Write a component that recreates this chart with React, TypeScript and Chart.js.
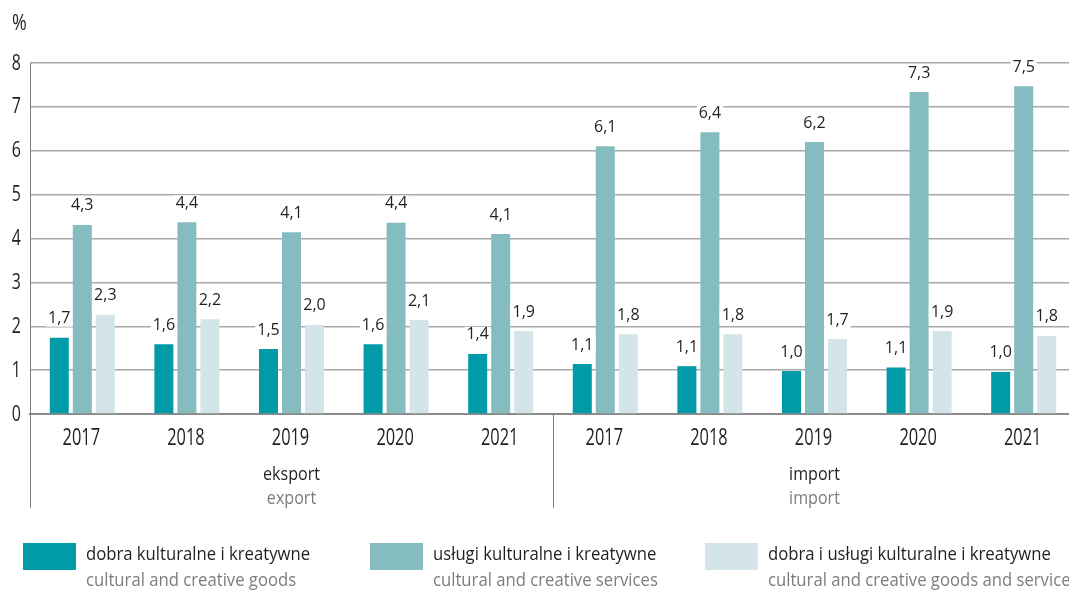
import React, { useEffect, useRef } from "react";
import { Chart, registerables } from "chart.js";

Chart.register(...registerables);

// ---- data ----
const years = ["2017", "2018", "2019", "2020", "2021", "2017", "2018", "2019", "2020", "2021"];
const groupsPl = ["eksport", "import"];
const groupsEn = ["export", "import"];
const goods = [1.74, 1.59, 1.48, 1.59, 1.37, 1.14, 1.09, 0.98, 1.06, 0.96];
const services = [4.31, 4.37, 4.14, 4.36, 4.1, 6.1, 6.42, 6.2, 7.34, 7.47];
const goodsAndServices = [2.26, 2.16, 2.03, 2.14, 1.89, 1.82, 1.82, 1.71, 1.89, 1.78];
const seriesPl = [
  "dobra kulturalne i kreatywne",
  "usługi kulturalne i kreatywne",
  "dobra i usługi kulturalne i kreatywne",
];
const seriesEn = [
  "cultural and creative goods",
  "cultural and creative services",
  "cultural and creative goods and services",
];
const seriesColors = ["#009ba7", "#85bcc0", "#d4e5e9"];
const yMin = 0;
const yMax = 8;
const yStep = 1;
const yUnit = "%";

const FONT = "'Open Sans', 'Noto Sans', sans-serif";
const DARK = "#231f20";
const GREY = "#7d7d7d";

function condText(
  ctx: CanvasRenderingContext2D,
  txt: string,
  x: number,
  y: number,
  size: number,
  color: string,
  align: CanvasTextAlign,
  sx: number
) {
  ctx.save();
  ctx.translate(x, y);
  ctx.scale(sx, 1);
  ctx.font = `${size}px ${FONT}`;
  ctx.fillStyle = color;
  ctx.textAlign = align;
  ctx.textBaseline = "alphabetic";
  ctx.fillText(txt, 0, 0);
  ctx.restore();
}

function fitScale(ctx: CanvasRenderingContext2D, txt: string, size: number, target: number) {
  ctx.save();
  ctx.font = `${size}px ${FONT}`;
  const w = ctx.measureText(txt).width;
  ctx.restore();
  return w > 0 ? target / w : 1;
}

const valueLabels = {
  id: "valueLabels",
  afterDatasetsDraw(chart: any) {
    const ctx = chart.ctx;
    ctx.save();
    ctx.font = `16px ${FONT}`;
    ctx.textAlign = "center";
    ctx.textBaseline = "middle";
    chart.data.datasets.forEach((ds: any, di: number) => {
      const meta = chart.getDatasetMeta(di);
      meta.data.forEach((el: any, i: number) => {
        const txt = Number(ds.data[i]).toFixed(1).replace(".", ",");
        const y = el.y - 19;
        const w = ctx.measureText(txt).width;
        ctx.fillStyle = "#ffffff";
        ctx.fillRect(el.x - w / 2 - 2, y - 8, w + 4, 16);
        ctx.fillStyle = DARK;
        ctx.fillText(txt, el.x, y);
      });
    });
    ctx.restore();
  },
};

const decor = {
  id: "decor",
  afterDraw(chart: any) {
    const ctx = chart.ctx;
    const area = chart.chartArea;
    const xs = chart.scales.x;
    const ys = chart.scales.y;
    ctx.save();
    // unit
    condText(ctx, yUnit, 12, 30, 21, DARK, "left", 0.85);

    // y tick labels
    for (let v = yMin; v <= yMax; v += yStep) {
      condText(ctx, String(v), 21, ys.getPixelForValue(v) + 6.5, 21, DARK, "right", 0.76);
    }
    // x tick labels
    years.forEach((yr, i) => {
      condText(ctx, yr, xs.getPixelForValue(i) - 1, 444.5, 23.4, DARK, "center", 0.7);
    });

    const lineBottom = 508;
    ctx.strokeStyle = GREY;
    ctx.lineWidth = 1;
    // left axis
    ctx.beginPath();
    ctx.moveTo(area.left + 0.5, area.top);
    ctx.lineTo(area.left + 0.5, lineBottom);
    ctx.stroke();
    // separator
    const sep = (xs.getPixelForValue(4) + xs.getPixelForValue(5)) / 2;
    ctx.beginPath();
    ctx.moveTo(Math.round(sep) + 0.5, area.bottom);
    ctx.lineTo(Math.round(sep) + 0.5, lineBottom);
    ctx.stroke();

    // group labels
    const gs = fitScale(ctx, groupsPl[0], 18, 57);
    const centers = [(area.left + sep) / 2, (sep + area.right) / 2];
    centers.forEach((cx, g) => {
      condText(ctx, groupsPl[g], cx, 480, 18, DARK, "center", gs);
      condText(ctx, groupsEn[g], cx, 504, 18, GREY, "center", gs);
    });

    // legend
    const ls = fitScale(ctx, seriesPl[0], 17.5, 224);
    const legX = [23, 370, 705];
    legX.forEach((lx, i) => {
      ctx.fillStyle = seriesColors[i];
      ctx.fillRect(lx, 543, 53, 27);
      condText(ctx, seriesPl[i], lx + 63, 560, 17.5, DARK, "left", ls);
      condText(ctx, seriesEn[i], lx + 63, 586, 17.5, GREY, "left", ls);
    });
    ctx.restore();
  },
};

export default function App() {
  const ref = useRef<HTMLCanvasElement | null>(null);
  useEffect(() => {
    if (!ref.current) return;
    const chart = new Chart(ref.current, {
      type: "bar",
      data: {
        labels: years,
        datasets: [
          { label: seriesPl[0], data: goods, backgroundColor: seriesColors[0] },
          { label: seriesPl[1], data: services, backgroundColor: seriesColors[1] },
          { label: seriesPl[2], data: goodsAndServices, backgroundColor: seriesColors[2] },
        ],
      },
      options: {
        responsive: false,
        animation: false,
        devicePixelRatio: 1,
        categoryPercentage: 0.66,
        barPercentage: 0.826,
        layout: { padding: { top: 63, right: 10, left: 0, bottom: 0 } },
        plugins: { legend: { display: false }, tooltip: { enabled: false } },
        scales: {
          x: {
            grid: { display: false, drawTicks: false },
            border: { display: true, color: "#8a8a8a", width: 2 },
            ticks: { display: false },
            afterFit(scale: any) {
              scale.height = 178;
            },
          },
          y: {
            min: yMin,
            max: yMax,
            grid: { color: "#a9a9a9", lineWidth: 1.5, drawTicks: false },
            border: { display: false },
            ticks: { display: false, stepSize: yStep },
            afterFit(scale: any) {
              scale.width = 30;
            },
          },
        },
      },
      plugins: [valueLabels, decor],
    } as any);
    return () => chart.destroy();
  }, []);
  return (
    <div
      style={{
        position: "fixed",
        left: 0,
        top: 0,
        width: 1069,
        height: 592,
        overflow: "hidden",
        background: "#fff",
      }}
    >
      <canvas ref={ref} width={1086} height={592} style={{ width: 1086, height: 592, display: "block" }} />
    </div>
  );
}
